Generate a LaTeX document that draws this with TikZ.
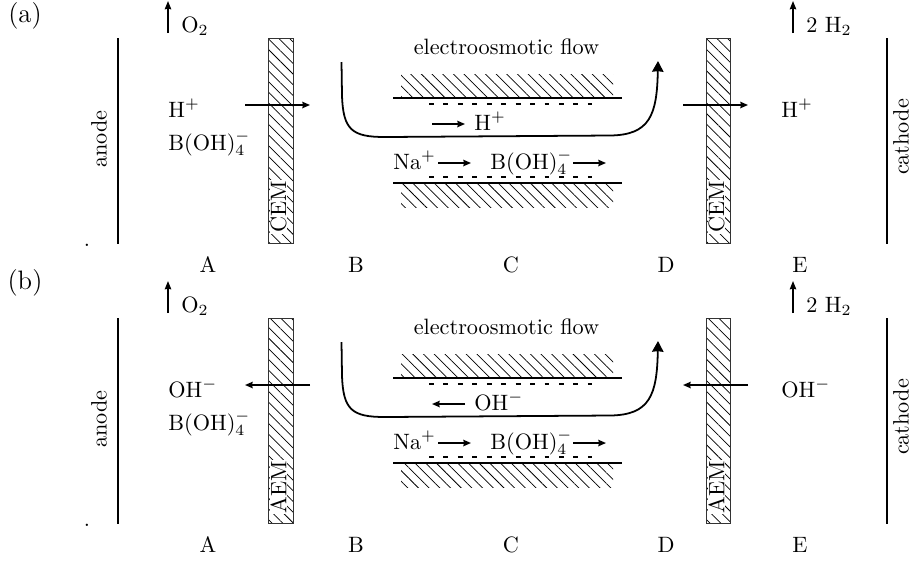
\documentclass[tikz,border=0pt]{standalone}
\usepackage{amsmath,amssymb,amsfonts}
\usetikzlibrary{arrows.meta,patterns.meta}
\tikzset{
	electrode/.style={line width=0.9pt},
	elabel/.style={rotate=90, inner sep=0pt},
	membrane/.style={draw=black!80, line width=0.4pt, pattern={Lines[angle=-45,distance=3.4pt,line width=0.33pt]}},
	hatchwall/.style={pattern={Lines[angle=-45,distance=3.4pt,line width=0.33pt]}},
	memlabel/.style={rotate=90, inner sep=0.4pt, fill=white},
	wall/.style={line width=0.8pt},
	charges/.style={line width=0.6pt, dash pattern=on 2.2pt off 4.3pt},
	ionarr/.style={-{Stealth[length=1.2mm,width=1mm,inset=0.1mm]}, line width=0.7pt},
	gasarr/.style={-{Stealth[length=1.3mm,width=1mm,inset=0.1mm]}, line width=0.8pt},
	flowarr/.style={-{Stealth[length=1.7mm,width=1.8mm,inset=0.1mm]}, line width=0.8pt},
	chem/.style={anchor=base west, inner sep=0pt},
	zone/.style={anchor=base, inner sep=0pt}
}
\begin{document}
\begin{tikzpicture}[x=0.45pt,y=-0.45pt]
	\useasboundingbox (0,0) rectangle (909,561);
	% panel (a)
	\node[font=\large, inner sep=0pt] (alabel) at (25,16) {(a)};
	\coordinate (aanodet) at (118,38);
	\coordinate (aanodeb) at (118,244);
	\coordinate (acathodet) at (887,38);
	\coordinate (acathodeb) at (887,244);
	\draw[electrode] (aanodet)--(aanodeb);
	\draw[electrode] (acathodet)--(acathodeb);
	\node[elabel] (aanode) at (99,139) {anode};
	\node[elabel] (acathode) at (901,137) {cathode};
	\node[zone] (adot) at (87,246) {.};
	\node[chem] (ao2) at (181,32) {O$_2$};
	\node[chem] (ah2) at (806,32) {2 H$_2$};
	\coordinate (ao2s) at (168,33);
	\coordinate (ao2e) at (168,1);
	\coordinate (ah2s) at (793,33);
	\coordinate (ah2e) at (793,1);
	\draw[gasarr] (ao2s)--(ao2e);
	\draw[gasarr] (ah2s)--(ah2e);
	\path[membrane] (268,38) rectangle (293,243);
	\path[membrane] (706,38) rectangle (730,243);
	\node[memlabel] (acem1) at (278.5,207) {CEM};
	\node[memlabel] (acem2) at (716.5,207) {CEM};
	\node[chem] (ahl) at (168,117) {H$^+$};
	\node[chem] (ab) at (168,150) {B(OH)$_4^-$};
	\node[chem] (ahr) at (781,117) {H$^+$};
	\coordinate (al1) at (245,105);
	\coordinate (al2) at (310,105);
	\coordinate (ar1) at (683,105);
	\coordinate (ar2) at (748,105);
	\draw[ionarr] (al1)--(al2);
	\draw[ionarr] (ar1)--(ar2);
	\node (aflow) at (506.5,47) {electroosmotic flow};
	\path[hatchwall] (401,74) rectangle (613,98);
	\path[hatchwall] (401,183) rectangle (613,207);
	\coordinate (awt1) at (393,98);
	\coordinate (awt2) at (622,98);
	\coordinate (awb1) at (393,183);
	\coordinate (awb2) at (622,183);
	\coordinate (act1) at (429,104);
	\coordinate (act2) at (592,104);
	\coordinate (acb1) at (429,177);
	\coordinate (acb2) at (592,177);
	\draw[wall] (awt1)--(awt2);
	\draw[wall] (awb1)--(awb2);
	\draw[charges] (act1)--(act2);
	\draw[charges] (acb1)--(acb2);
	\coordinate (afs) at (341.5,62);
	\coordinate (afe) at (658,61);
	\draw[flowarr] (afs)--(342,95) .. controls (343,130) and (352,137) .. (385,137)
		-- (610,135.5) .. controls (650,135) and (657,115) .. (afe);
	\node[chem] (ahc) at (474,130) {H$^+$};
	\coordinate (ahc1) at (432,124);
	\coordinate (ahc2) at (465,124);
	\draw[ionarr] (ahc1)--(ahc2);
	\node[chem] (ana) at (393,169) {Na$^+$};
	\coordinate (ana1) at (438,163);
	\coordinate (ana2) at (471,163);
	\draw[ionarr] (ana1)--(ana2);
	\node[chem] (abc) at (490,169) {B(OH)$_4^-$};
	\coordinate (abc1) at (573,163);
	\coordinate (abc2) at (606,163);
	\draw[ionarr] (abc1)--(abc2);
	\node[zone] (aA) at (208,272) {A};
	\node[zone] (aB) at (356,272) {B};
	\node[zone] (aC) at (511,272) {C};
	\node[zone] (aD) at (666,272) {D};
	\node[zone] (aE) at (800,272) {E};
	% panel (b)
	\begin{scope}[yshift=-126pt]
		\node[font=\large, inner sep=0pt] (blabel) at (25,3) {(b)};
		\coordinate (banodet) at (118,38);
		\coordinate (banodeb) at (118,244);
		\coordinate (bcathodet) at (887,38);
		\coordinate (bcathodeb) at (887,244);
		\draw[electrode] (banodet)--(banodeb);
		\draw[electrode] (bcathodet)--(bcathodeb);
		\node[elabel] (banode) at (99,139) {anode};
		\node[elabel] (bcathode) at (901,137) {cathode};
		\node[zone] (bdot) at (87,246) {.};
		\node[chem] (bo2) at (181,32) {O$_2$};
		\node[chem] (bh2) at (806,32) {2 H$_2$};
		\coordinate (bo2s) at (168,33);
		\coordinate (bo2e) at (168,1);
		\coordinate (bh2s) at (793,33);
		\coordinate (bh2e) at (793,1);
		\draw[gasarr] (bo2s)--(bo2e);
		\draw[gasarr] (bh2s)--(bh2e);
		\path[membrane] (268,38) rectangle (293,243);
		\path[membrane] (706,38) rectangle (730,243);
		\node[memlabel] (bcem1) at (278.5,207) {AEM};
		\node[memlabel] (bcem2) at (716.5,207) {AEM};
		\node[chem] (bhl) at (168,117) {OH$^-$};
		\node[chem] (bb) at (168,150) {B(OH)$_4^-$};
		\node[chem] (bhr) at (781,117) {OH$^-$};
		\coordinate (bl1) at (310,105);
		\coordinate (bl2) at (245,105);
		\coordinate (br1) at (748,105);
		\coordinate (br2) at (683,105);
		\draw[ionarr] (bl1)--(bl2);
		\draw[ionarr] (br1)--(br2);
		\node (bflow) at (506.5,47) {electroosmotic flow};
		\path[hatchwall] (401,74) rectangle (613,98);
		\path[hatchwall] (401,183) rectangle (613,207);
		\coordinate (bwt1) at (393,98);
		\coordinate (bwt2) at (622,98);
		\coordinate (bwb1) at (393,183);
		\coordinate (bwb2) at (622,183);
		\coordinate (bct1) at (429,104);
		\coordinate (bct2) at (592,104);
		\coordinate (bcb1) at (429,177);
		\coordinate (bcb2) at (592,177);
		\draw[wall] (bwt1)--(bwt2);
		\draw[wall] (bwb1)--(bwb2);
		\draw[charges] (bct1)--(bct2);
		\draw[charges] (bcb1)--(bcb2);
		\coordinate (bfs) at (341.5,62);
		\coordinate (bfe) at (658,61);
		\draw[flowarr] (bfs)--(342,95) .. controls (343,130) and (352,137) .. (385,137)
			-- (610,135.5) .. controls (650,135) and (657,115) .. (bfe);
		\node[chem] (bhc) at (474,130) {OH$^-$};
		\coordinate (bhc1) at (465,124);
		\coordinate (bhc2) at (432,124);
		\draw[ionarr] (bhc1)--(bhc2);
		\node[chem] (bna) at (393,169) {Na$^+$};
		\coordinate (bna1) at (438,163);
		\coordinate (bna2) at (471,163);
		\draw[ionarr] (bna1)--(bna2);
		\node[chem] (bbc) at (490,169) {B(OH)$_4^-$};
		\coordinate (bbc1) at (573,163);
		\coordinate (bbc2) at (606,163);
		\draw[ionarr] (bbc1)--(bbc2);
		\node[zone] (bA) at (208,272) {A};
		\node[zone] (bB) at (356,272) {B};
		\node[zone] (bC) at (511,272) {C};
		\node[zone] (bD) at (666,272) {D};
		\node[zone] (bE) at (800,272) {E};
	\end{scope}
\end{tikzpicture}
\end{document}
